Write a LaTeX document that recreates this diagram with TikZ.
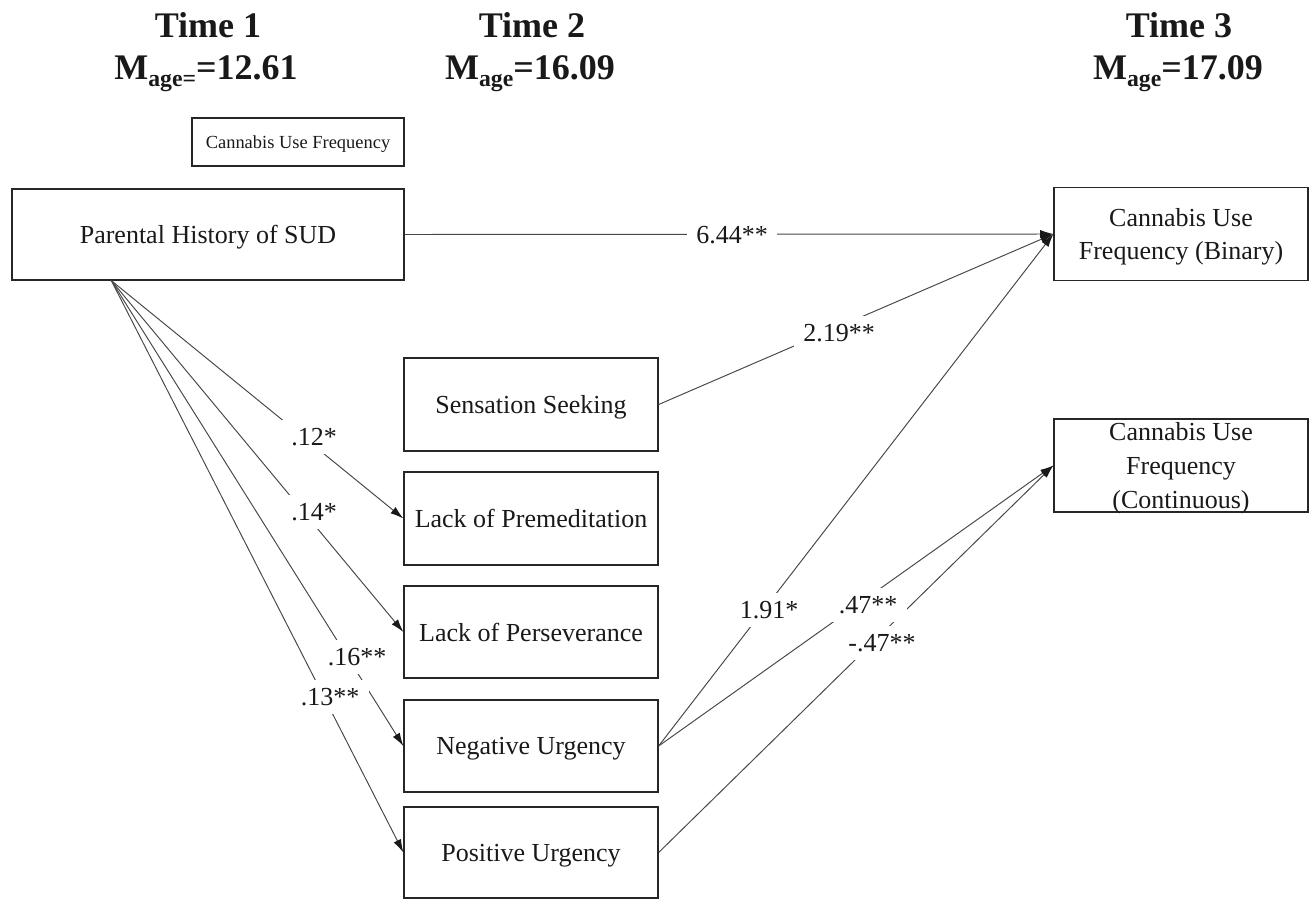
\documentclass[tikz,border=0pt]{standalone}
\usepackage{fontspec}
\setmainfont{Liberation Serif}
\usetikzlibrary{arrows.meta}
\begin{document}
\begin{tikzpicture}[x=0.02cm,y=-0.02cm,
  box/.style={draw=black!85, line width=0.75pt, inner sep=0pt, align=center,
    font=\fontsize{14.8}{19.2}\selectfont, text=black!90, text depth=0pt},
  lbl/.style={fill=white, inner xsep=5.5pt, inner ysep=4.5pt,
    font=\fontsize{14.8}{18}\selectfont, text=black!90},
  conn/.style={draw=black!72, line width=0.55pt},
  arr/.style={conn, -{Latex[length=7.5pt,width=4.6pt,color=black!90]}},
  ttl/.style={font=\fontsize{20.5}{24}\selectfont\bfseries, text=black!90, anchor=base, inner sep=0pt}]
\useasboundingbox (0,0) rectangle (1314,899);

% titles
\node[ttl] (t1) at (208,37) {Time 1};
\node[ttl] (m1) at (206,79) {M\raisebox{-4.5pt}{\fontsize{13.5}{14}\selectfont age=}=12.61};
\node[ttl] (t2) at (532,37) {Time 2};
\node[ttl] (m2) at (530,79) {M\raisebox{-4.5pt}{\fontsize{13.5}{14}\selectfont age}=16.09};
\node[ttl] (t3) at (1179,37) {Time 3};
\node[ttl] (m3) at (1178,79) {M\raisebox{-4.5pt}{\fontsize{13.5}{14}\selectfont age}=17.09};

% boxes
\node[box, minimum width=4.24cm, minimum height=0.96cm, font=\fontsize{10.5}{12}\selectfont] (cuf) at (298,142) {Cannabis Use Frequency};
\node[box, minimum width=7.84cm, minimum height=1.82cm] (par) at (208,234.5) {Parental History of SUD};
\node[box, minimum width=5.08cm, minimum height=1.86cm] (ss) at (531,404.5) {Sensation Seeking};
\node[box, minimum width=5.08cm, minimum height=1.86cm] (lp) at (531,518.5) {Lack of Premeditation};
\node[box, minimum width=5.08cm, minimum height=1.84cm] (lv) at (531,632) {Lack of Perseverance};
\node[box, minimum width=5.08cm, minimum height=1.84cm] (nu) at (531,746) {Negative Urgency};
\node[box, minimum width=5.08cm, minimum height=1.82cm] (pu) at (531,852.5) {Positive Urgency};
\node[box, minimum width=5.08cm, minimum height=1.86cm] (bin) at (1181,234) {Cannabis Use\\Frequency (Binary)};
\node[box, minimum width=5.08cm, minimum height=1.86cm] (con) at (1181,465.5) {Cannabis Use\\Frequency\\(Continuous)};

\coordinate[xshift=2cm] (src) at (par.south west);

% connectors
\draw[arr] (par.east) -- (bin.west);
\draw[arr] (ss.east) -- (bin.west);
\draw[arr] (nu.east) -- (bin.west);
\draw[arr] (nu.east) -- (con.west);
\draw[arr] (pu.east) -- (con.west);
\draw[arr] (src) -- (lp.west);
\draw[arr] (src) -- (lv.west);
\draw[arr] (src) -- (nu.west);
\draw[arr] (src) -- (pu.west);

% labels
\node[lbl] (l644) at (732,235) {6.44**};
\node[lbl] (l219) at (839,333) {2.19**};
\node[lbl] (l12) at (314,437) {.12*};
\node[lbl] (l14) at (314,512) {.14*};
\node[lbl] (l16) at (357,657) {.16**};
\node[lbl] (l13) at (330,697) {.13**};
\node[lbl] (l191) at (769,610) {1.91*};
\node[lbl] (l47) at (868,605) {.47**};
\node[lbl] (lm47) at (882,643) {-.47**};
\end{tikzpicture}
\end{document}
